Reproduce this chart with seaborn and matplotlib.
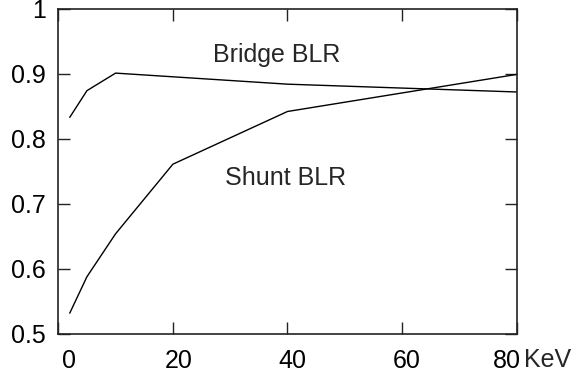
import matplotlib
matplotlib.use("Agg")
import matplotlib.pyplot as plt
import matplotlib.transforms as mtransforms
import seaborn as sns
import pandas as pd

bridge_x = [2, 5, 10, 40, 80]
bridge_y = [0.833, 0.874, 0.901, 0.884, 0.872]
shunt_x = [2, 5, 10, 20, 40, 80]
shunt_y = [0.532, 0.588, 0.654, 0.761, 0.842, 0.899]
x_ticks = [0, 20, 40, 60, 80]
x_ticklabels = ["0", "20", "40", "60", "80"]
y_ticks = [0.5, 0.6, 0.7, 0.8, 0.9, 1.0]
y_ticklabels = ["0.5", "0.6", "0.7", "0.8", "0.9", "1"]
series_labels = ["Bridge BLR", "Shunt BLR"]
x_unit = "KeV"

sns.set_style("ticks")
plt.rcParams["font.family"] = ["Liberation Sans", "DejaVu Sans"]

df = pd.concat([
    pd.DataFrame({"x": bridge_x, "y": bridge_y, "s": series_labels[0]}),
    pd.DataFrame({"x": shunt_x, "y": shunt_y, "s": series_labels[1]}),
])

fig = plt.figure(figsize=(5.81, 3.72), dpi=100)
ax = fig.add_axes([0.1003, 0.1022, 0.789, 0.8744])
sns.lineplot(data=df, x="x", y="y", units="s", estimator=None, color="black",
             linewidth=1.0, sort=False, ax=ax, legend=False)

ax.set_xlim(0, 80)
ax.set_ylim(0.5, 1.0)
ax.set_xticks(x_ticks)
ax.set_xticklabels(x_ticklabels)
ax.set_yticks(y_ticks)
ax.set_yticklabels(y_ticklabels)
ax.set_xlabel("")
ax.set_ylabel("")
for sp in ax.spines.values():
    sp.set_visible(True)
    sp.set_linewidth(1.2)
    sp.set_color("#222222")
ax.tick_params(axis="both", direction="in", length=8.6, width=1.0, color="#222222",
               top=True, right=True, labelsize=18, labelcolor="black")
ax.tick_params(axis="y", pad=9.0)
ax.tick_params(axis="x", pad=11)

# gnuplot-like offsets of x tick labels
offsets_px = [11, 6, 5, 5, -10]
for lab, dx in zip(ax.get_xticklabels(), offsets_px):
    lab.set_transform(lab.get_transform() + mtransforms.ScaledTranslation(dx / 100, 0, fig.dpi_scale_trans))

ax.text(38.1, 0.929, series_labels[0], ha="center", va="center", fontsize=18)
ax.text(39.6, 0.740, series_labels[1], ha="center", va="center", fontsize=18)
fig.text(548 / 581, 1 - 360 / 372, x_unit, ha="center", va="center", fontsize=18)

fig.savefig("out.png", dpi=100)
